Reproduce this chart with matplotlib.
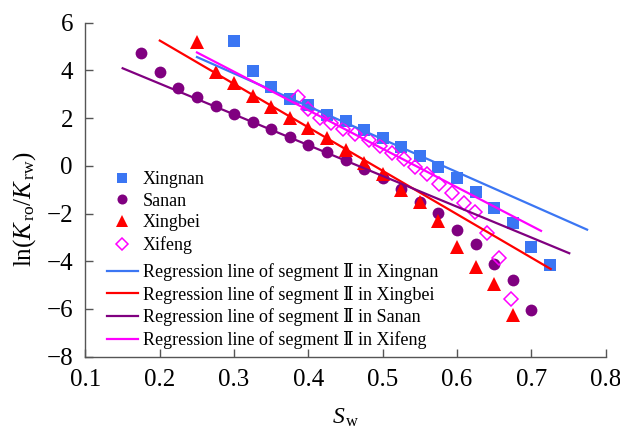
import numpy as np
import matplotlib
matplotlib.use("Agg")
import matplotlib.pyplot as plt

plt.rcParams['font.family'] = ['Liberation Serif', 'DejaVu Serif']
plt.rcParams['mathtext.fontset'] = 'custom'
plt.rcParams['mathtext.rm'] = 'Liberation Serif'
plt.rcParams['mathtext.it'] = 'Liberation Serif:italic'

# measured ln(Kro/Krw) against water saturation, one array per block
sw_xingnan = [0.300, 0.325, 0.350, 0.375, 0.400, 0.425, 0.450, 0.475, 0.500,
              0.525, 0.550, 0.575, 0.600, 0.625, 0.650, 0.675, 0.700, 0.725]
ln_xingnan = [5.25, 3.98, 3.32, 2.80, 2.55, 2.13, 1.86, 1.50, 1.17,
              0.80, 0.41, -0.04, -0.50, -1.08, -1.75, -2.38, -3.41, -4.16]

sw_sanan = [0.175, 0.200, 0.225, 0.250, 0.275, 0.300, 0.325, 0.350, 0.375, 0.400, 0.425,
            0.450, 0.475, 0.500, 0.525, 0.550, 0.575, 0.600, 0.625, 0.650, 0.675, 0.700]
ln_sanan = [4.72, 3.93, 3.28, 2.90, 2.50, 2.16, 1.83, 1.53, 1.22, 0.89, 0.58,
            0.25, -0.14, -0.52, -0.98, -1.50, -1.99, -2.69, -3.29, -4.13, -4.78, -6.04]

sw_xingbei = [0.250, 0.275, 0.300, 0.325, 0.350, 0.375, 0.400, 0.425, 0.450,
              0.475, 0.500, 0.525, 0.550, 0.575, 0.600, 0.625, 0.650, 0.675]
ln_xingbei = [5.20, 3.95, 3.49, 2.93, 2.45, 1.99, 1.57, 1.15, 0.66,
              0.13, -0.33, -1.03, -1.53, -2.31, -3.39, -4.25, -4.95, -6.25]

sw_xifeng = [0.386, 0.400, 0.415, 0.431, 0.447, 0.463, 0.481, 0.496, 0.512, 0.529,
             0.544, 0.559, 0.576, 0.593, 0.609, 0.624, 0.640, 0.657, 0.673]
ln_xifeng = [2.90, 2.37, 1.99, 1.78, 1.53, 1.33, 1.08, 0.83, 0.55, 0.27,
             -0.06, -0.34, -0.75, -1.15, -1.56, -1.93, -2.80, -3.87, -5.59]

# segment II regression lines: slope, intercept, Sw range
fit_xingnan = (-13.78, 8.005, 0.25, 0.775)
fit_xingbei = (-18.20, 8.89, 0.20, 0.726)
fit_sanan = (-12.90, 6.025, 0.15, 0.751)
fit_xifeng = (-16.15, 8.79, 0.25, 0.713)

c_blue = '#3b76f3'
c_purple = '#800080'
c_red = '#ff0000'
c_magenta = '#ff00ff'

fig = plt.figure(figsize=(6.2, 4.34), dpi=100)
ax = fig.add_axes([0.1379, 0.1781, 0.839, 0.7696])


def fit_line(fit):
    k, b, x0, x1 = fit
    xs = np.array([x0, x1])
    return xs, k * xs + b


h1, = ax.plot(sw_xingnan, ln_xingnan, 's', color=c_blue, ms=8, mew=0, label='Xingnan')
h2, = ax.plot(sw_sanan, ln_sanan, 'o', color=c_purple, ms=8.5, mew=0, label='Sanan')
h3, = ax.plot(sw_xingbei, ln_xingbei, '^', color=c_red, ms=9.5, mew=0, label='Xingbei')
h4, = ax.plot(sw_xifeng, ln_xifeng, 'D', mfc='none', mec=c_magenta, ms=7.5, mew=1.1,
              label='Xifeng')

l1, = ax.plot(*fit_line(fit_xingnan), color=c_blue, lw=1.6,
              label='Regression line of segment Ⅱ in Xingnan')
l2, = ax.plot(*fit_line(fit_xingbei), color=c_red, lw=1.6,
              label='Regression line of segment Ⅱ in Xingbei')
l3, = ax.plot(*fit_line(fit_sanan), color=c_purple, lw=1.6,
              label='Regression line of segment Ⅱ in Sanan')
l4, = ax.plot(*fit_line(fit_xifeng), color=c_magenta, lw=1.6,
              label='Regression line of segment Ⅱ in Xifeng')

ax.set_xlim(0.1, 0.8)
ax.set_ylim(-8, 6)
ax.set_xticks(np.arange(0.1, 0.81, 0.1))
ax.set_xticklabels(['0.1', '0.2', '0.3', '0.4', '0.5', '0.6', '0.7', '0.8'])
ax.set_yticks(np.arange(-8, 7, 2))
ax.tick_params(direction='in', length=6, width=1, color='#555555',
               labelsize=18, pad=9)

for s in ['top', 'right']:
    ax.spines[s].set_visible(False)
for s in ['left', 'bottom']:
    ax.spines[s].set_color('#555555')
    ax.spines[s].set_linewidth(1)

ax.set_xlabel(r'$S_{\,\mathrm{w}}$', fontsize=17, labelpad=11)
ax.set_ylabel(r'$\mathrm{ln}(K_{\,\mathrm{ro}}/K_{\,\mathrm{rw}})$', fontsize=18,
              va='center')
ax.yaxis.set_label_coords(-0.118, 0.442)

# markers and regression lines sit in two stacked legends
leg_kw = dict(loc='upper left', frameon=False, fontsize=13, borderpad=0,
              borderaxespad=0, labelspacing=0.26, handlelength=1.7,
              handletextpad=0.3)
leg1 = ax.legend(handles=[h1, h2, h3, h4], bbox_to_anchor=(0.041, 0.556),
                 markerscale=0.85, **leg_kw)
ax.add_artist(leg1)
ax.legend(handles=[l1, l2, l3, l4], bbox_to_anchor=(0.041, 0.2805), **leg_kw)

fig.savefig('out.png', dpi=100)
